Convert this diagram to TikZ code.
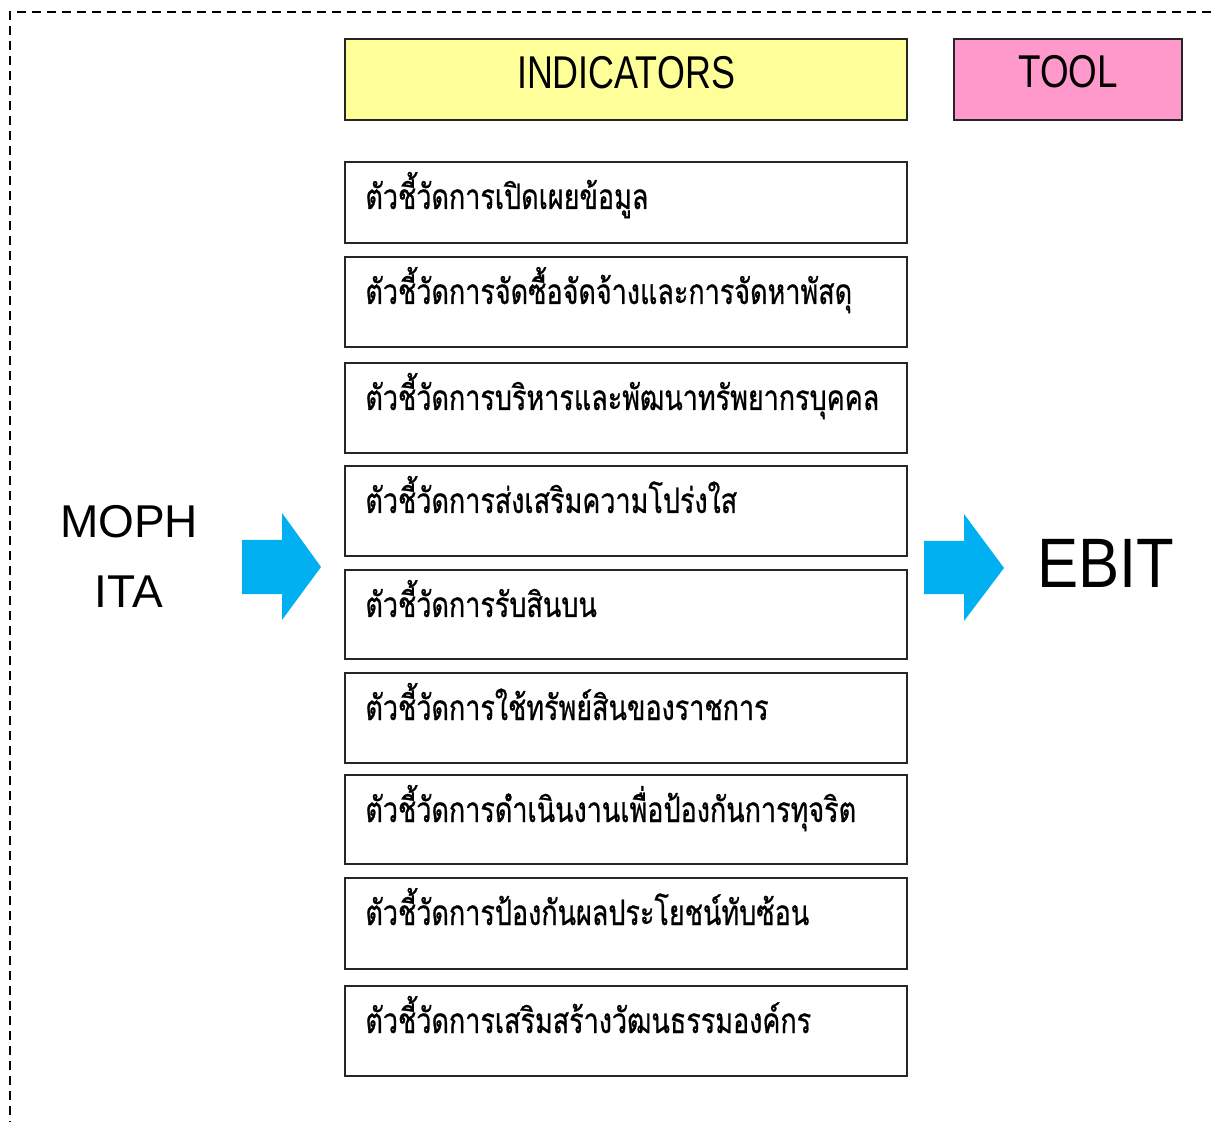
\documentclass[tikz,border=0pt]{standalone}
\usepackage{fontspec}
\usepackage{graphicx}
\setmainfont{Liberation Sans}
\newfontfamily\thaifont[Script=Thai,FakeBold=0.8]{Loma}
\definecolor{hdryellow}{HTML}{FFFF99}
\definecolor{hdrpink}{HTML}{FF99CC}
\definecolor{arrowblue}{HTML}{00B0F0}
\definecolor{boxline}{HTML}{262626}
\newcommand{\thairow}[1]{\scalebox{0.77}[1]{#1}}
\tikzset{
  rowbox/.style={draw=boxline, line width=0.8pt, fill=white},
  hdrbox/.style={draw=boxline, line width=0.8pt},
  rowtext/.style={anchor=base west, inner sep=0pt, font=\thaifont\fontsize{17.5}{20}\selectfont},
  bigtext/.style={anchor=base, inner sep=0pt, font=\fontsize{23}{26}\selectfont},
  blockarrow/.style={fill=arrowblue, draw=none},
}
\begin{document}
\begin{tikzpicture}[x=0.5pt, y=-0.5pt]
\useasboundingbox (0,0) rectangle (1215,1122);
% dashed frame (only top and left visible)
\draw[line width=1.1pt, dash pattern=on 4.5pt off 3pt] (10,1130) -- (10,12) -- (1225,12);
% headers
\draw[hdrbox, fill=hdryellow] (345,39) rectangle (907,120);
\node[bigtext] (ind) at (626,89) {\scalebox{0.78}[1]{INDICATORS}};
\draw[hdrbox, fill=hdrpink] (954,39) rectangle (1182,120);
\node[bigtext] (tool) at (1068,88) {\scalebox{0.8}[1]{TOOL}};
% rows
\foreach \t/\b/\txt [count=\i] in {
  162/243/{ตัวชี้วัดการเปิดเผยข้อมูล},
  257/347/{ตัวชี้วัดการจัดซื้อจัดจ้างและการจัดหาพัสดุ},
  363/453/{ตัวชี้วัดการบริหารและพัฒนาทรัพยากรบุคคล},
  466/556/{ตัวชี้วัดการส่งเสริมความโปร่งใส},
  570/659/{ตัวชี้วัดการรับสินบน},
  673/763/{ตัวชี้วัดการใช้ทรัพย์สินของราชการ},
  775/864/{ตัวชี้วัดการดำเนินงานเพื่อป้องกันการทุจริต},
  878/969/{ตัวชี้วัดการป้องกันผลประโยชน์ทับซ้อน},
  986/1076/{ตัวชี้วัดการเสริมสร้างวัฒนธรรมองค์กร}}
{
  \draw[rowbox] (345,\t) rectangle (907,\b);
  \node[rowtext] (r\i) at (365,\t+47) {\thairow{\txt}};
}
% left label
\node[bigtext] (moph) at (129,538) {MOPH};
\node[bigtext] (ita) at (129,608) {ITA};
% arrows
\fill[blockarrow] (242,540) -- (282,540) -- (282,513) -- (321,567) -- (282,620) -- (282,594) -- (242,594) -- cycle;
\fill[blockarrow] (924,541) -- (964,541) -- (964,514) -- (1004,568) -- (964,621) -- (964,594) -- (924,594) -- cycle;
% right label
\node[anchor=base, inner sep=0pt, font=\fontsize{35}{40}\selectfont] (ebit) at (1106,588) {\scalebox{0.88}[1]{EBIT}};
\end{tikzpicture}
\end{document}
